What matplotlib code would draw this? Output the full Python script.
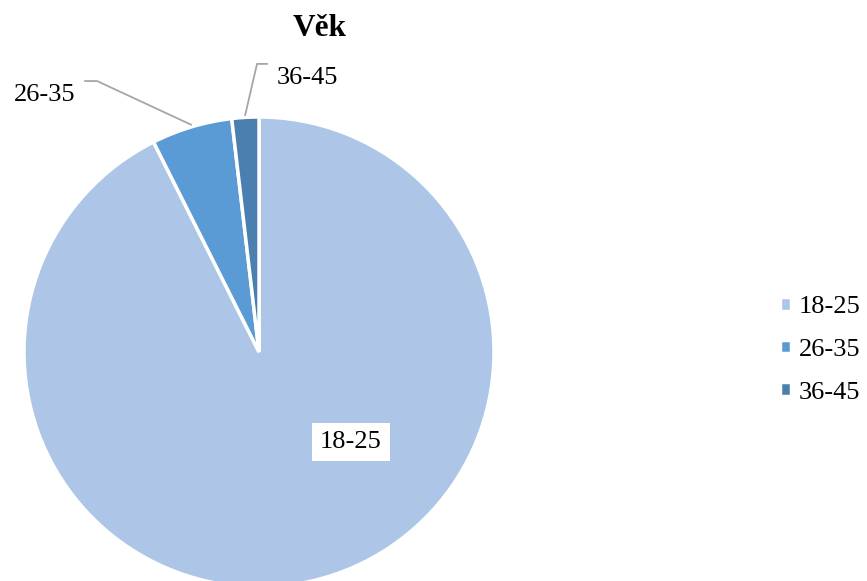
import numpy as np
import matplotlib.pyplot as plt

labels = ['18-25', '26-35', '36-45']
counts = [50, 3, 1]
colors = ['#adc5e6', '#5b9bd5', '#4a7fb0']
title = 'Věk'

plt.rcParams['font.family'] = ['Liberation Serif', 'DejaVu Serif']

fig = plt.figure(figsize=(8.67, 5.81), dpi=100)
# pie centred at (259, 352) px from top-left, radius 235 px
cx, cy, r = 259, 352, 235
ax = fig.add_axes([(cx - r) / 867, (581 - cy - r) / 581, 2 * r / 867, 2 * r / 581])

wedges, _ = ax.pie(counts, colors=colors, startangle=90, counterclock=False,
                   radius=1, wedgeprops=dict(edgecolor='white', linewidth=2.5))
ax.set_xlim(-1, 1)
ax.set_ylim(-1, 1)
ax.axis('off')

# data labels
ax.text(0.391, -0.383, labels[0], fontsize=19, ha='center', va='center',
        bbox=dict(facecolor='white', edgecolor='none', pad=6))

def leader(i, elbow, end, textpos):
    w = wedges[i]
    ang = np.deg2rad((w.theta1 + w.theta2) / 2)
    sx, sy = 1.01 * np.cos(ang), 1.01 * np.sin(ang)
    ax.plot([sx, elbow[0], end[0]], [sy, elbow[1], end[1]], color='#a6a6a6',
            lw=1.3, clip_on=False)
    ax.text(textpos[0], textpos[1], labels[i], fontsize=19, ha='center', va='center')

leader(1, (-0.689, 1.153), (-0.740, 1.153), (-0.911, 1.094))
leader(2, (-0.0085, 1.226), (0.034, 1.226), (0.204, 1.166))

fig.text(320 / 867, 1 - 28 / 581, title, fontsize=22.5, fontweight='bold',
         ha='center', va='center')

fig.legend(wedges, labels, loc='center left', bbox_to_anchor=(756 / 867, 1 - 350 / 581),
           frameon=False, fontsize=19, handlelength=0.42, handleheight=0.42,
           handletextpad=0.3, labelspacing=0.78)

fig.savefig('out.png', dpi=100)
